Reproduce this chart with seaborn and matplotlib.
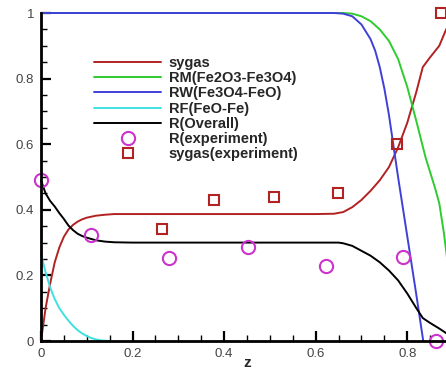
import numpy as np
import pandas as pd
import matplotlib
matplotlib.use("Agg")
import matplotlib.pyplot as plt
from matplotlib.ticker import MultipleLocator, FuncFormatter
import seaborn as sns

# curves
sygas_z = [0, 0.005, 0.01, 0.02, 0.03, 0.04, 0.05, 0.06, 0.07, 0.08, 0.09, 0.10, 0.12, 0.14, 0.16, 0.2,
           0.4, 0.6, 0.64, 0.66, 0.68, 0.70, 0.72, 0.74, 0.76, 0.78, 0.80, 0.82, 0.834, 0.85, 0.87, 0.885, 0.90]
sygas_y = [0, 0.05, 0.10, 0.175, 0.24, 0.285, 0.318, 0.34, 0.354, 0.364, 0.371, 0.376, 0.382, 0.385, 0.387, 0.387,
           0.387, 0.387, 0.388, 0.393, 0.408, 0.43, 0.458, 0.49, 0.53, 0.59, 0.665, 0.76, 0.835, 0.865, 0.90, 0.95, 0.99]

rm_z = [0, 0.66, 0.68, 0.70, 0.72, 0.74, 0.76, 0.78, 0.80, 0.82, 0.84, 0.85, 0.86, 0.87, 0.88, 0.89, 0.90]
rm_y = [1, 1, 0.998, 0.99, 0.975, 0.95, 0.915, 0.86, 0.775, 0.67, 0.56, 0.515, 0.47, 0.42, 0.33, 0.22, 0.10]

rw_z = [0, 0.64, 0.66, 0.68, 0.70, 0.72, 0.73, 0.74, 0.75, 0.76, 0.77, 0.78, 0.80, 0.82, 0.835]
rw_y = [1, 1, 0.998, 0.99, 0.965, 0.92, 0.885, 0.835, 0.77, 0.69, 0.595, 0.50, 0.32, 0.14, 0.0]

rf_z = [0, 0.01, 0.02, 0.03, 0.04, 0.05, 0.06, 0.07, 0.08, 0.09, 0.10, 0.11, 0.12, 0.13, 0.14, 0.15]
rf_y = [0.265, 0.21, 0.163, 0.128, 0.10, 0.08, 0.062, 0.046, 0.033, 0.023, 0.015, 0.009, 0.005, 0.002, 0.001, 0.0]

r_z = [0, 0.01, 0.02, 0.03, 0.04, 0.05, 0.06, 0.07, 0.08, 0.09, 0.10, 0.12, 0.14, 0.16, 0.2, 0.6, 0.65,
       0.66, 0.68, 0.70, 0.72, 0.74, 0.76, 0.78, 0.80, 0.82, 0.834, 0.85, 0.87, 0.885, 0.90]
r_y = [0.49, 0.45, 0.427, 0.41, 0.39, 0.372, 0.352, 0.338, 0.327, 0.32, 0.315, 0.307, 0.303, 0.301, 0.30, 0.30, 0.30,
       0.298, 0.29, 0.275, 0.26, 0.24, 0.215, 0.185, 0.145, 0.10, 0.07, 0.055, 0.038, 0.024, 0.012]

# experiment points
r_exp_z = [0.0, 0.11, 0.28, 0.452, 0.622, 0.79, 0.863]
r_exp_y = [0.49, 0.323, 0.253, 0.287, 0.229, 0.256, 0.0]
syg_exp_z = [0.264, 0.378, 0.509, 0.648, 0.778, 0.874]
syg_exp_y = [0.341, 0.43, 0.44, 0.451, 0.60, 1.0]

names = ["sygas", "RM(Fe2O3-Fe3O4)", "RW(Fe3O4-FeO)", "RF(FeO-Fe)", "R(Overall)"]
colors = ["#b22222", "#2ecc2e", "#4040d8", "#40e0e0", "black"]

curves = pd.concat([
    pd.DataFrame({"z": zz, "val": yy, "series": nm})
    for zz, yy, nm in zip([sygas_z, rm_z, rw_z, rf_z, r_z],
                          [sygas_y, rm_y, rw_y, rf_y, r_y], names)
], ignore_index=True)

sns.set_style("white")
plt.rcParams["font.family"] = ["Liberation Sans", "DejaVu Sans"]

fig = plt.figure(figsize=(4.46, 3.69), dpi=100)
ax = fig.add_axes([41 / 446, 28 / 369, 412 / 446, 328 / 369])

sns.lineplot(data=curves, x="z", y="val", hue="series", hue_order=names,
             palette=colors, estimator=None, sort=False, linewidth=1.4, ax=ax, legend=True)
for ln in ax.get_lines():
    ln.set_clip_on(False)

ax.plot(r_exp_z, r_exp_y, linestyle="none", marker="o", markersize=9.5, markerfacecolor="none",
        markeredgecolor="#cc33cc", markeredgewidth=1.5, clip_on=False, label="R(experiment)")
ax.plot(syg_exp_z, syg_exp_y, linestyle="none", marker="s", markersize=6.5, markerfacecolor="none",
        markeredgecolor="#b22222", markeredgewidth=1.5, clip_on=False, label="sygas(experiment)")

ax.set_xlim(0, 0.9)
ax.set_ylim(0, 1)
ax.xaxis.set_major_locator(MultipleLocator(0.2))
ax.xaxis.set_minor_locator(MultipleLocator(0.05))
ax.yaxis.set_major_locator(MultipleLocator(0.2))
ax.yaxis.set_minor_locator(MultipleLocator(0.05))
fmt = FuncFormatter(lambda v, p: f"{v:g}")
ax.xaxis.set_major_formatter(fmt)
ax.yaxis.set_major_formatter(fmt)
ax.tick_params(axis="both", which="both", bottom=True, left=True, direction="in", color="black")
ax.tick_params(which="major", length=7, width=1.6, labelsize=9.5, labelcolor="#444444", pad=5)
ax.tick_params(which="minor", length=4, width=1.0)

for side in ["top", "right"]:
    ax.spines[side].set_visible(False)
for side in ["left", "bottom"]:
    ax.spines[side].set_linewidth(2)
    ax.spines[side].set_color("black")

ax.set_xlabel("z", fontsize=11, fontweight="bold", labelpad=-3)
ax.set_ylabel("")

handles, labels = ax.get_legend_handles_labels()
leg = ax.legend(handles, labels, loc="upper left", bbox_to_anchor=(81 / 446, 1 - 43 / 369),
                bbox_transform=fig.transFigure, frameon=False, handlelength=4.6,
                handletextpad=0.5, labelspacing=0.08, prop={"size": 10.5, "weight": "bold"})

fig.savefig("out.png", dpi=100)
